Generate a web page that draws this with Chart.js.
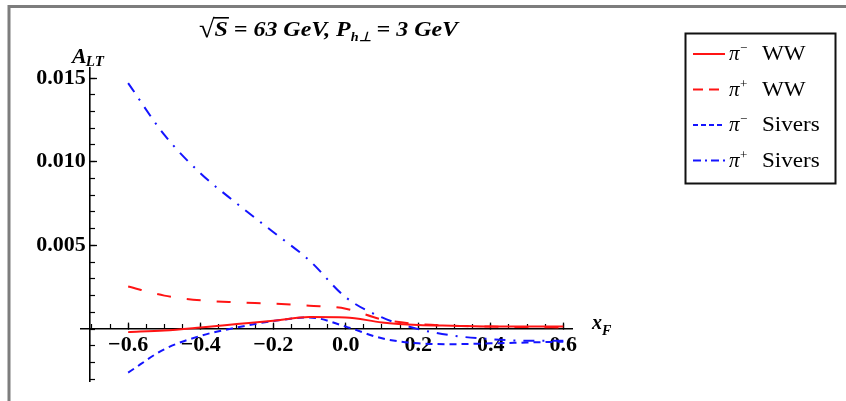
<!DOCTYPE html>
<html>
<head>
<meta charset="utf-8">
<script src="https://cdn.jsdelivr.net/npm/chart.js@4.4.1/dist/chart.umd.min.js"></script>
<style>
  body { margin: 0; background: #fff; }
  #wrap { width: 846px; height: 401px; }
</style>
</head>
<body>
<div id="wrap"><canvas id="myChart" width="846" height="401"></canvas></div>
<script>
// values
const xValues = [-0.6, -0.5, -0.4, -0.3, -0.2, -0.1, 0.0, 0.1, 0.2, 0.3, 0.4, 0.5, 0.6];
const piMinusWW = [-0.00018, -0.00008, 0.0001, 0.0003, 0.0005, 0.00072, 0.0007, 0.0004, 0.00025, 0.0002, 0.00015, 0.00015, 0.00015];
const piPlusWW = [0.00255, 0.0020, 0.00172, 0.0016, 0.00152, 0.0014, 0.00122, 0.00058, 0.0003, 0.0002, 0.00015, 0.00012, 0.0001];
const piMinusSivers = [-0.0026, -0.0012, -0.0004, 0.0001, 0.00048, 0.0007, 0.00015, -0.00055, -0.00085, -0.0009, -0.00085, -0.0008, -0.00075];
const piPlusSivers = [0.0147, 0.0116, 0.0093, 0.0075, 0.0058, 0.0041, 0.0019, 0.0007, 0.0, -0.0004, -0.0006, -0.0007, -0.0007];

const seriesLabels = ["π⁻ WW", "π⁺ WW", "π⁻ Sivers", "π⁺ Sivers"];
const xTickValues = [-0.6, -0.4, -0.2, 0.0, 0.2, 0.4, 0.6];
const yTickValues = [0.005, 0.010, 0.015];

const xMin = -0.73, xMax = 0.624, yMin = -0.0031, yMax = 0.0156;
const yAxisAt = -0.705;

const red = "rgb(255,20,20)";
const blue = "rgb(20,20,255)";
const serif = "'Liberation Serif', 'Times New Roman', serif";

function toPoints(ys) {
    return xValues.map((x, i) => ({ x: x, y: ys[i] }));
}

function minorTicks(from, to, step) {
    const out = [];
    for (let k = Math.round(from / step); k * step <= to + 1e-9; k++) out.push({ value: k * step });
    return out;
}

function lineStyle(color, dash, legendDash) {
    return {
        borderColor: color, backgroundColor: color, borderWidth: 2, borderDash: dash,
        legendDash: legendDash, pointRadius: 0, fill: false,
        cubicInterpolationMode: "monotone", xAxisID: "x", yAxisID: "y"
    };
}

const datasets = [
    Object.assign({ label: seriesLabels[0], data: toPoints(piMinusWW) }, lineStyle(red, [], [])),
    Object.assign({ label: seriesLabels[1], data: toPoints(piPlusWW) }, lineStyle(red, [14, 16], [10, 6])),
    Object.assign({ label: seriesLabels[2], data: toPoints(piMinusSivers) }, lineStyle(blue, [7, 5], [5, 3])),
    Object.assign({ label: seriesLabels[3], data: toPoints(piPlusSivers) }, lineStyle(blue, [11, 8, 2, 8], [8, 4, 2, 4]))
];

// frame, title, axis names and the boxed legend
const decorations = {
    id: "decorations",
    beforeDraw(chart) {
        const ctx = chart.ctx;
        ctx.save();
        ctx.fillStyle = "#fff";
        ctx.fillRect(0, 0, chart.width, chart.height);
        ctx.strokeStyle = "#7d7d7d";
        ctx.lineWidth = 3;
        ctx.strokeRect(9, 6.5, chart.width + 20, chart.height + 20);
        ctx.restore();
    },
    afterDraw(chart) {
        const ctx = chart.ctx;
        const xs = chart.scales.x, ys = chart.scales.y;
        ctx.save();
        ctx.fillStyle = "#000";
        ctx.textBaseline = "alphabetic";

        // title
        const big = "italic bold 22px " + serif;
        const parts = [
            { t: "√", f: "bold 26px " + serif, dy: 1 },
            { t: "S", f: big, dy: 0, over: true },
            { t: " = 63 GeV, P", f: big, dy: 0 },
            { t: "h⊥", f: "italic bold 13px " + serif, dy: 5 },
            { t: " = 3 GeV", f: big, dy: 0 }
        ];
        let total = 0;
        parts.forEach(p => { ctx.font = p.f; p.w = ctx.measureText(p.t).width; total += p.w; });
        const sx = 259 / total;
        ctx.save();
        ctx.translate(199, 36);
        ctx.scale(sx, 1);
        let cx = 0;
        parts.forEach(p => {
            ctx.font = p.f;
            ctx.fillText(p.t, cx, p.dy);
            if (p.over) {
                ctx.fillRect(cx - 1, -19, p.w + 2, 1.6);
            }
            cx += p.w;
        });
        ctx.restore();

        // axis names
        const axisX = xs.getPixelForValue(yAxisAt);
        const axisY = ys.getPixelForValue(0);
        ctx.font = "italic bold 22px " + serif;
        ctx.fillText("A", axisX - 18, ys.top - 5);
        let wA = ctx.measureText("A").width;
        ctx.font = "italic bold 15px " + serif;
        ctx.fillText("LT", axisX - 18 + wA - 1, ys.top - 2.5);

        ctx.font = "italic bold 20px " + serif;
        ctx.fillText("x", xs.right + 20, axisY);
        let wx = ctx.measureText("x").width;
        ctx.font = "italic bold 14px " + serif;
        ctx.fillText("F", xs.right + 20 + wx, axisY + 6);

        // legend
        ctx.strokeStyle = "#111";
        ctx.lineWidth = 2;
        ctx.strokeRect(685.5, 33.5, 150, 150);
        chart.data.datasets.forEach((ds, i) => {
            const y = 54 + i * 35.5;
            ctx.strokeStyle = ds.borderColor;
            ctx.lineWidth = 2;
            ctx.setLineDash(ds.legendDash);
            ctx.beginPath();
            ctx.moveTo(693, y);
            ctx.lineTo(725, y);
            ctx.stroke();
            ctx.setLineDash([]);
            const sign = ds.label.charAt(1) === "⁻" ? "−" : "+";
            const word = ds.label.slice(3);
            ctx.fillStyle = "#000";
            ctx.font = "italic 21px " + serif;
            ctx.fillText("π", 729, y + 6);
            ctx.font = "13px " + serif;
            ctx.fillText(sign, 740, y - 2);
            ctx.save();
            ctx.translate(762, y + 6);
            ctx.scale(1.1, 1);
            ctx.font = "21px " + serif;
            ctx.fillText(word, 0, 0);
            ctx.restore();
        });
        ctx.restore();
    }
};

const tickFont = { family: serif, size: 22, weight: "bold" };

const ctx = document.getElementById("myChart").getContext("2d");
const myChart = new Chart(ctx, {
    type: "line",
    data: { datasets: datasets },
    options: {
        responsive: false,
        animation: false,
        devicePixelRatio: 1,
        layout: { padding: { left: 81, right: 274, top: 68, bottom: 20 } },
        plugins: { legend: { display: false }, tooltip: { enabled: false } },
        scales: {
            x: {
                type: "linear", axis: "x", min: xMin, max: xMax, position: { y: 0 },
                afterBuildTicks: s => { s.ticks = xTickValues.map(v => ({ value: v })); },
                afterFit: s => { s.height = 0; },
                grid: { display: true, drawOnChartArea: false, drawTicks: true, tickLength: -7, tickColor: "#000", tickWidth: 1.3 },
                border: { display: true, color: "#000", width: 1.6 },
                ticks: {
                    autoSkip: false, maxRotation: 0, padding: 10, color: "#000", font: tickFont,
                    callback: v => (v < -1e-9 ? "−" : "") + Math.abs(v).toFixed(1)
                }
            },
            y: {
                type: "linear", axis: "y", min: yMin, max: yMax, position: { x: yAxisAt },
                afterBuildTicks: s => { s.ticks = yTickValues.map(v => ({ value: v })); },
                afterFit: s => { s.width = 0; },
                grid: { display: true, drawOnChartArea: false, drawTicks: true, tickLength: -8, tickColor: "#000", tickWidth: 1.3 },
                border: { display: true, color: "#000", width: 1.6 },
                ticks: {
                    autoSkip: false, padding: 0, color: "#000", font: tickFont,
                    callback: v => v.toFixed(3) + "\u2009"
                }
            },
            xMinor: {
                type: "linear", axis: "x", min: xMin, max: xMax, position: { y: 0 },
                afterBuildTicks: s => { s.ticks = minorTicks(-0.7, 0.6, 0.05); },
                afterFit: s => { s.height = 0; },
                grid: { display: true, drawOnChartArea: false, drawTicks: true, tickLength: -5, tickColor: "#000", tickWidth: 1.2 },
                border: { display: false },
                ticks: { display: false, autoSkip: false }
            },
            yMinor: {
                type: "linear", axis: "y", min: yMin, max: yMax, position: { x: yAxisAt },
                afterBuildTicks: s => { s.ticks = minorTicks(-0.003, 0.015, 0.001); },
                afterFit: s => { s.width = 0; },
                grid: { display: true, drawOnChartArea: false, drawTicks: true, tickLength: -5, tickColor: "#000", tickWidth: 1.2 },
                border: { display: false },
                ticks: { display: false, autoSkip: false }
            }
        }
    },
    plugins: [decorations]
});
</script>
</body>
</html>
